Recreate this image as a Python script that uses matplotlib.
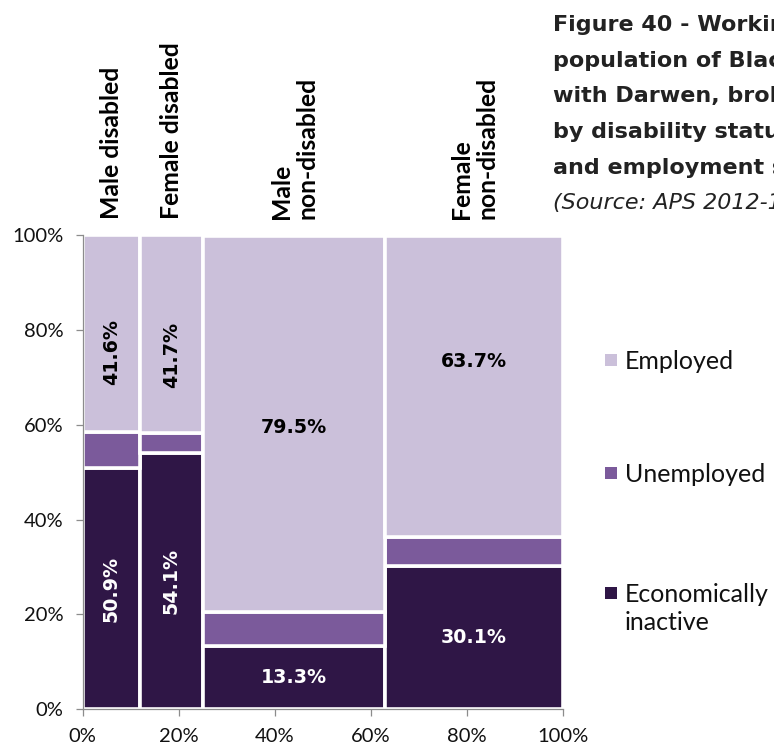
import matplotlib
matplotlib.use("Agg")
import matplotlib.pyplot as plt
from matplotlib.patches import Rectangle
import numpy as np

# ---- data -------------------------------------------------------------
groups = ["Male disabled", "Female disabled", "Male\nnon-disabled", "Female\nnon-disabled"]
group_share = [12.0, 13.0, 38.0, 37.0]          # column widths (% of population)
inactive = [50.9, 54.1, 13.3, 30.1]             # economically inactive (%)
unemployed = [7.5, 4.2, 7.2, 6.2]               # unemployed (%)
employed = [41.6, 41.7, 79.5, 63.7]             # employed (%)
status_labels = ["Employed", "Unemployed", "Economically\ninactive"]
x_ticks = [0, 20, 40, 60, 80, 100]
y_ticks = [0, 20, 40, 60, 80, 100]
title_lines = [
    "Figure 40 - Working age",
    "population of Blackburn",
    "with Darwen, broken down",
    "by disability status, gender",
    "and employment status",
]
source_line = "(Source: APS 2012-13)"

# ---- style ------------------------------------------------------------
W, H = 774, 748
C_EMP, C_UNEMP, C_INACT = "#CBC0DA", "#7B5A9B", "#2F1646"
AXIS_GREY = "#8C8C8C"
LABEL_FONT = ["DejaVu Sans"]
plt.rcParams["font.family"] = ["Lato", "DejaVu Sans"]
emp_label_shift = [-3.8, -4.3, -0.8, 5.2]        # vertical nudges of employed labels

fig = plt.figure(figsize=(W / 100, H / 100), dpi=100)
fig.patch.set_facecolor("white")


def fx(px):
    return px / W


def fy(py):
    return 1 - py / H


ax = fig.add_axes([fx(82.7), fy(709), 480 / W, 473.5 / H])

left = np.concatenate([[0.0], np.cumsum(group_share)[:-1]])
base = np.zeros(len(groups))
for vals, col in zip([inactive, unemployed, employed], [C_INACT, C_UNEMP, C_EMP]):
    ax.bar(left, vals, width=group_share, bottom=base, align="edge",
           color=col, edgecolor="white", linewidth=2.6, zorder=1)
    base = base + np.asarray(vals)

# value labels on the inactive and employed segments
for i in range(len(groups)):
    cx = left[i] + group_share[i] / 2
    rot = 90 if group_share[i] < 20 else 0
    ax.text(cx, inactive[i] / 2, f"{inactive[i]:.1f}%", rotation=rot,
            ha="center", va="center", color="white", fontsize=13.7,
            fontweight="bold", family=LABEL_FONT, zorder=3)
    emp_mid = inactive[i] + unemployed[i] + employed[i] / 2 + emp_label_shift[i]
    ax.text(cx, emp_mid, f"{employed[i]:.1f}%", rotation=rot,
            ha="center", va="center", color="black", fontsize=13.7,
            fontweight="bold", family=LABEL_FONT, zorder=3)

# column headings above the plot
for i, g in enumerate(groups):
    ax.text(left[i] + group_share[i] / 2, 1.034, g,
            transform=ax.get_xaxis_transform(), rotation=90,
            ha="center", va="bottom", multialignment="left",
            fontsize=17.8, fontweight="bold", color="black", linespacing=1.12)

ax.set_xlim(0, 100)
ax.set_ylim(0, 100)
ax.set_xticks(x_ticks)
ax.set_yticks(y_ticks)
ax.set_xticklabels([f"{v}%" for v in x_ticks])
ax.set_yticklabels([f"{v}%" for v in y_ticks])
for s in ["top", "right"]:
    ax.spines[s].set_visible(False)
for s in ["left", "bottom"]:
    ax.spines[s].set_color(AXIS_GREY)
    ax.spines[s].set_linewidth(0.9)
    ax.spines[s].set_zorder(4)
ax.tick_params(direction="out", length=5, width=0.9, color=AXIS_GREY,
               pad=9, labelsize=14.5, labelcolor="#111111")

# legend drawn as coloured squares with labels
legend_colors = [C_EMP, C_UNEMP, C_INACT]
legend_y = [360, 473, 593]
for lab, col, yc in zip(status_labels, legend_colors, legend_y):
    fig.add_artist(Rectangle((fx(605), fy(yc + 6)), 12 / W, 12 / H,
                             transform=fig.transFigure, facecolor=col,
                             edgecolor="none"))
    for k, line in enumerate(lab.split("\n")):
        fig.text(fx(625), fy(yc + k * 27), line, ha="left",
                 va="center_baseline", fontsize=18, color="#111111")

# figure title, running off the right edge
for k, line in enumerate(title_lines):
    fig.text(fx(553), fy(31 + k * 35.7), line, ha="left", va="baseline",
             fontsize=16, fontweight="bold", color="#222222",
             family=["DejaVu Sans"])
fig.text(fx(553), fy(31 + len(title_lines) * 35.7), source_line,
         ha="left", va="baseline", fontsize=16, fontstyle="italic",
         color="#222222", family=["DejaVu Sans"])

fig.savefig("out.png", dpi=100, facecolor="white")
